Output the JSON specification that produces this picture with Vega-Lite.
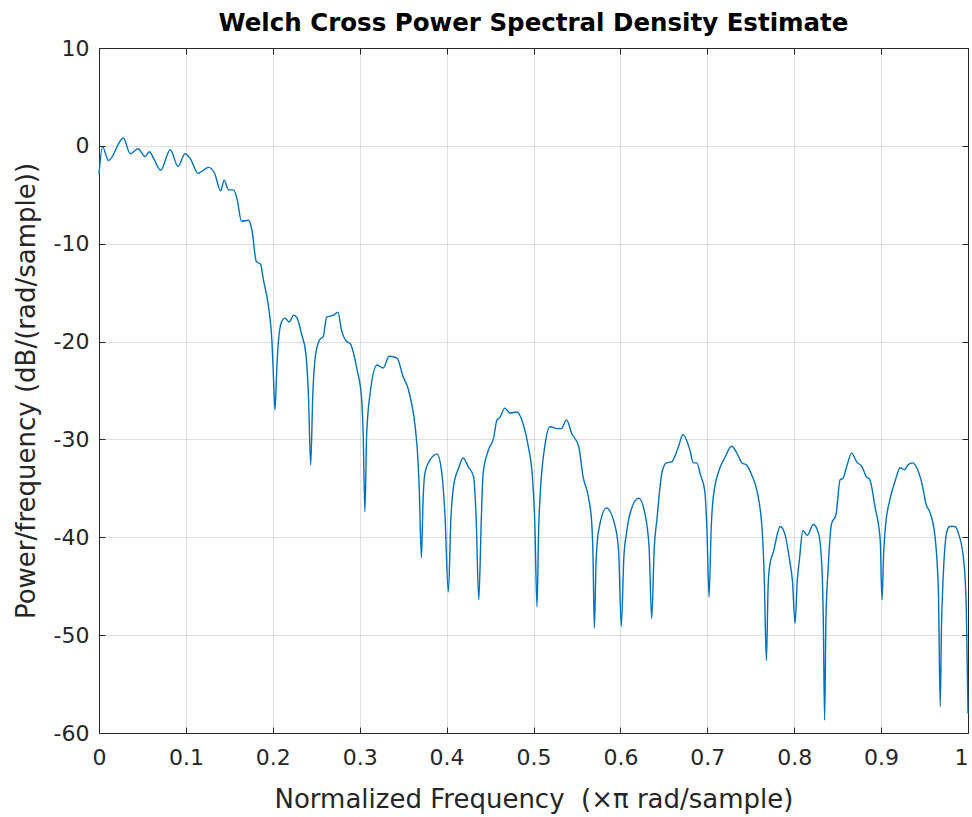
{
  "$schema": "https://vega.github.io/schema/vega-lite/v6.json",
  "width": 869,
  "height": 685,
  "autosize": {"type": "none"},
  "padding": {"left": 99, "top": 48, "right": 4, "bottom": 84},
  "background": "white",
  "view": {"stroke": null},
  "title": {
    "text": "Welch Cross Power Spectral Density Estimate",
    "font": "DejaVu Sans",
    "fontSize": 24.5,
    "fontWeight": "bold",
    "color": "#000000",
    "anchor": "middle",
    "baseline": "bottom",
    "offset": 10,
    "dy": 33
  },
  "config": {
    "axis": {
      "labelFont": "DejaVu Sans",
      "titleFont": "DejaVu Sans",
      "labelColor": "#262626",
      "titleColor": "#262626",
      "domainColor": "#262626",
      "tickColor": "#262626",
      "gridColor": "#262626",
      "gridOpacity": 0.15,
      "labelFontSize": 22,
      "titleFontSize": 26,
      "titleFontWeight": "normal",
      "tickSize": -6,
      "labelFlush": false,
      "labelOverlap": false
    }
  },
  "data": {
    "values": [
      {"f": 0.000, "p": -2.9}, {"f": 0.004, "p": -0.1}, {"f": 0.011, "p": -1.5}, {"f": 0.028, "p": 0.8},
      {"f": 0.036, "p": -0.8}, {"f": 0.045, "p": -0.3}, {"f": 0.053, "p": -1.1}, {"f": 0.058, "p": -0.6},
      {"f": 0.063, "p": -1.3}, {"f": 0.071, "p": -2.5}, {"f": 0.082, "p": -0.4}, {"f": 0.091, "p": -2.1},
      {"f": 0.099, "p": -0.8}, {"f": 0.105, "p": -1.3}, {"f": 0.114, "p": -2.8}, {"f": 0.126, "p": -2.2},
      {"f": 0.133, "p": -2.8}, {"f": 0.140, "p": -4.6}, {"f": 0.144, "p": -3.5}, {"f": 0.149, "p": -4.5},
      {"f": 0.155, "p": -4.5}, {"f": 0.159, "p": -5.5}, {"f": 0.164, "p": -7.7}, {"f": 0.172, "p": -7.6},
      {"f": 0.176, "p": -8.6}, {"f": 0.181, "p": -11.8}, {"f": 0.186, "p": -12.1}, {"f": 0.189, "p": -13.6},
      {"f": 0.195, "p": -16.4}, {"f": 0.199, "p": -20.0}, {"f": 0.2005, "p": -23.0}, {"f": 0.2025, "p": -27.0},
      {"f": 0.2045, "p": -23.0}, {"f": 0.206, "p": -20.5},
      {"f": 0.210, "p": -18.0}, {"f": 0.214, "p": -17.6}, {"f": 0.219, "p": -18.0}, {"f": 0.224, "p": -17.3},
      {"f": 0.228, "p": -17.6}, {"f": 0.233, "p": -19.2}, {"f": 0.238, "p": -21.2}, {"f": 0.241, "p": -25.5},
      {"f": 0.2436, "p": -32.6}, {"f": 0.246, "p": -25.5},
      {"f": 0.249, "p": -21.5}, {"f": 0.254, "p": -19.8}, {"f": 0.258, "p": -19.5}, {"f": 0.262, "p": -17.5},
      {"f": 0.270, "p": -17.3}, {"f": 0.275, "p": -17.0}, {"f": 0.279, "p": -18.8}, {"f": 0.285, "p": -20.0},
      {"f": 0.289, "p": -20.2}, {"f": 0.297, "p": -22.9}, {"f": 0.302, "p": -25.6}, {"f": 0.304, "p": -29.5},
      {"f": 0.306, "p": -37.4}, {"f": 0.308, "p": -29.5},
      {"f": 0.312, "p": -25.3}, {"f": 0.320, "p": -22.4}, {"f": 0.327, "p": -22.7}, {"f": 0.334, "p": -21.5},
      {"f": 0.343, "p": -21.7}, {"f": 0.350, "p": -23.6}, {"f": 0.356, "p": -24.9}, {"f": 0.366, "p": -30.7},
      {"f": 0.3685, "p": -35.0}, {"f": 0.371, "p": -42.1}, {"f": 0.373, "p": -36.0},
      {"f": 0.375, "p": -33.5}, {"f": 0.381, "p": -32.1}, {"f": 0.389, "p": -31.5},
      {"f": 0.394, "p": -33.1}, {"f": 0.398, "p": -37.5}, {"f": 0.402, "p": -45.6}, {"f": 0.405, "p": -38.0},
      {"f": 0.408, "p": -34.8}, {"f": 0.414, "p": -32.9},
      {"f": 0.419, "p": -31.9}, {"f": 0.425, "p": -32.8}, {"f": 0.431, "p": -33.8}, {"f": 0.434, "p": -38.0},
      {"f": 0.437, "p": -46.4}, {"f": 0.440, "p": -38.0},
      {"f": 0.442, "p": -33.5}, {"f": 0.448, "p": -31.1}, {"f": 0.454, "p": -29.9}, {"f": 0.458, "p": -28.0},
      {"f": 0.461, "p": -27.8}, {"f": 0.467, "p": -26.8}, {"f": 0.473, "p": -27.3}, {"f": 0.481, "p": -27.2},
      {"f": 0.488, "p": -28.4}, {"f": 0.494, "p": -30.7}, {"f": 0.499, "p": -34.1}, {"f": 0.5015, "p": -38.5},
      {"f": 0.504, "p": -47.1}, {"f": 0.506, "p": -39.0},
      {"f": 0.508, "p": -35.2}, {"f": 0.513, "p": -30.7}, {"f": 0.519, "p": -28.7}, {"f": 0.527, "p": -28.9},
      {"f": 0.532, "p": -28.9}, {"f": 0.538, "p": -28.0}, {"f": 0.544, "p": -29.4}, {"f": 0.552, "p": -30.7},
      {"f": 0.557, "p": -33.8}, {"f": 0.563, "p": -35.8}, {"f": 0.567, "p": -38.5}, {"f": 0.5685, "p": -42.0},
      {"f": 0.570, "p": -49.3}, {"f": 0.572, "p": -42.5},
      {"f": 0.575, "p": -39.3}, {"f": 0.584, "p": -37.0}, {"f": 0.594, "p": -38.9}, {"f": 0.598, "p": -41.5},
      {"f": 0.601, "p": -49.1}, {"f": 0.604, "p": -42.0},
      {"f": 0.607, "p": -39.6}, {"f": 0.611, "p": -37.6}, {"f": 0.621, "p": -36.0}, {"f": 0.628, "p": -37.5},
      {"f": 0.633, "p": -41.0}, {"f": 0.636, "p": -48.3}, {"f": 0.639, "p": -41.0},
      {"f": 0.642, "p": -38.2}, {"f": 0.648, "p": -33.3}, {"f": 0.653, "p": -32.4},
      {"f": 0.659, "p": -32.3}, {"f": 0.667, "p": -30.7}, {"f": 0.672, "p": -29.5}, {"f": 0.680, "p": -31.1},
      {"f": 0.684, "p": -32.4}, {"f": 0.688, "p": -32.4}, {"f": 0.692, "p": -33.6}, {"f": 0.697, "p": -35.2},
      {"f": 0.6995, "p": -39.0}, {"f": 0.702, "p": -46.1}, {"f": 0.7045, "p": -39.0},
      {"f": 0.707, "p": -35.8}, {"f": 0.715, "p": -32.8}, {"f": 0.720, "p": -31.9},
      {"f": 0.728, "p": -30.7}, {"f": 0.734, "p": -31.4}, {"f": 0.740, "p": -32.4}, {"f": 0.745, "p": -32.6},
      {"f": 0.751, "p": -33.6}, {"f": 0.757, "p": -35.2}, {"f": 0.763, "p": -39.1}, {"f": 0.7655, "p": -44.0},
      {"f": 0.768, "p": -52.6}, {"f": 0.770, "p": -45.0},
      {"f": 0.772, "p": -42.8}, {"f": 0.776, "p": -41.5}, {"f": 0.784, "p": -38.9}, {"f": 0.789, "p": -39.6},
      {"f": 0.795, "p": -42.5}, {"f": 0.798, "p": -44.5}, {"f": 0.801, "p": -48.8}, {"f": 0.8035, "p": -44.5},
      {"f": 0.806, "p": -42.3}, {"f": 0.810, "p": -39.3},
      {"f": 0.815, "p": -39.8}, {"f": 0.822, "p": -38.7}, {"f": 0.828, "p": -39.6}, {"f": 0.832, "p": -43.3},
      {"f": 0.8335, "p": -48.5}, {"f": 0.835, "p": -58.7}, {"f": 0.8365, "p": -48.5},
      {"f": 0.839, "p": -43.3}, {"f": 0.843, "p": -38.6}, {"f": 0.848, "p": -37.7},
      {"f": 0.853, "p": -34.1}, {"f": 0.856, "p": -34.0}, {"f": 0.860, "p": -32.9}, {"f": 0.866, "p": -31.4},
      {"f": 0.872, "p": -32.3}, {"f": 0.878, "p": -32.8}, {"f": 0.883, "p": -33.8}, {"f": 0.887, "p": -34.1},
      {"f": 0.893, "p": -36.9}, {"f": 0.899, "p": -40.3}, {"f": 0.901, "p": -46.4}, {"f": 0.903, "p": -41.5},
      {"f": 0.905, "p": -38.9},
      {"f": 0.910, "p": -36.2}, {"f": 0.916, "p": -34.3}, {"f": 0.922, "p": -32.9}, {"f": 0.927, "p": -33.1},
      {"f": 0.931, "p": -32.6}, {"f": 0.936, "p": -32.4}, {"f": 0.941, "p": -32.9}, {"f": 0.947, "p": -34.5},
      {"f": 0.952, "p": -36.7}, {"f": 0.956, "p": -37.4}, {"f": 0.962, "p": -39.9}, {"f": 0.966, "p": -45.7},
      {"f": 0.968, "p": -57.3}, {"f": 0.9695, "p": -49.0}, {"f": 0.971, "p": -45.0}, {"f": 0.976, "p": -39.3},
      {"f": 0.979, "p": -38.9},
      {"f": 0.985, "p": -38.9}, {"f": 0.989, "p": -39.6}, {"f": 0.995, "p": -42.3}, {"f": 0.998, "p": -47.0},
      {"f": 1.000, "p": -58.0}
    ]
  },
  "layer": [
    {
      "mark": {"type": "line", "stroke": "#0072BD", "strokeWidth": 1.4, "interpolate": "monotone"},
      "encoding": {
        "x": {
          "field": "f", "type": "quantitative",
          "scale": {"domain": [0, 1], "nice": false, "zero": false},
          "axis": {
            "orient": "bottom",
            "title": "Normalized Frequency\u00a0\u00a0(×π rad/sample)",
            "values": [0, 0.1, 0.2, 0.3, 0.4, 0.5, 0.6, 0.7, 0.8, 0.9, 1],
            "format": "~g",
            "grid": true,
            "labelAlign": {"condition": {"test": "datum.value >= 1", "value": "right"}, "value": "center"},
            "labelPadding": 20,
            "titlePadding": 18
          }
        },
        "y": {
          "field": "p", "type": "quantitative",
          "scale": {"domain": [-60, 10], "nice": false, "zero": false},
          "axis": {
            "orient": "left",
            "title": "Power/frequency (dB/(rad/sample))",
            "values": [-60, -50, -40, -30, -20, -10, 0, 10],
            "labelExpr": "datum.value < 0 ? '-' + abs(datum.value) : '' + datum.value",
            "grid": true,
            "labelPadding": 16,
            "titlePadding": 14
          }
        }
      }
    },
    {
      "mark": {"type": "line", "opacity": 0},
      "encoding": {
        "x": {
          "field": "f", "type": "quantitative",
          "axis": {
            "orient": "top", "title": null, "labels": false, "grid": false,
            "minExtent": 0, "maxExtent": 0, "labelPadding": 0,
            "values": [0, 0.1, 0.2, 0.3, 0.4, 0.5, 0.6, 0.7, 0.8, 0.9, 1]
          }
        },
        "y": {
          "field": "p", "type": "quantitative",
          "axis": {
            "orient": "right", "title": null, "labels": false, "grid": false,
            "minExtent": 0, "maxExtent": 0, "labelPadding": 0,
            "values": [-60, -50, -40, -30, -20, -10, 0, 10]
          }
        }
      }
    }
  ],
  "resolve": {"axis": {"x": "independent", "y": "independent"}}
}
